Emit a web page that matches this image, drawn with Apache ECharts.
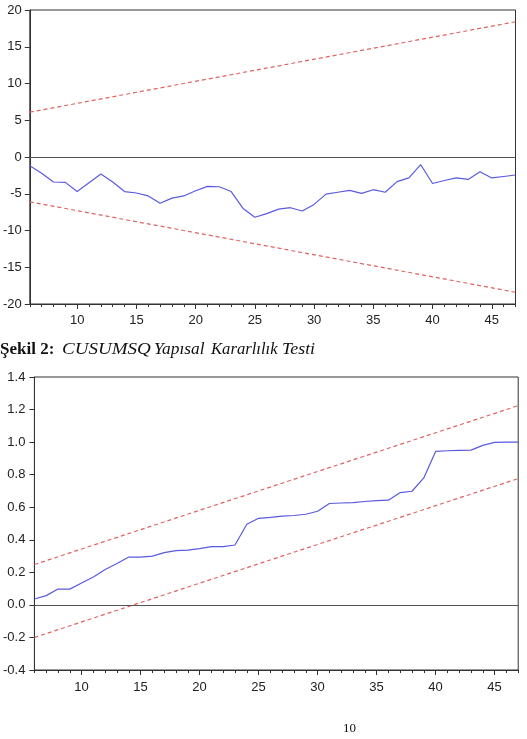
<!DOCTYPE html>
<html>
<head>
<meta charset="utf-8">
<script src="https://cdn.jsdelivr.net/npm/echarts@6/dist/echarts.min.js"></script>
<style>
html,body{margin:0;padding:0;background:#fff;}
#c{width:527px;height:739px;}
</style>
</head>
<body>
<div id="c"></div>
<script>
// observation index (x axis)
const obs = [6,7,8,9,10,11,12,13,14,15,16,17,18,19,20,21,22,23,24,25,26,27,28,29,30,31,32,33,34,35,36,37,38,39,40,41,42,43,44,45,46,47];
// CUSUM statistic
const cusum = [-1.2,-2.2,-3.4,-3.45,-4.7,-3.5,-2.3,-3.4,-4.7,-4.9,-5.3,-6.3,-5.6,-5.3,-4.6,-4.0,-4.05,-4.7,-7.0,-8.2,-7.7,-7.1,-6.9,-7.35,-6.45,-5.05,-4.8,-4.55,-4.95,-4.45,-4.8,-3.35,-2.85,-1.05,-3.6,-3.2,-2.85,-3.05,-2.0,-2.85,-2.65,-2.45];
// CUSUM 5% bounds (endpoints)
const cusumBoundX = [6, 47];
const cusumUpper = [6.1, 18.4];
const cusumLower = [-6.1, -18.4];
// CUSUM of squares statistic
const cusumsq = [0.036,0.057,0.097,0.097,0.134,0.171,0.217,0.254,0.294,0.294,0.30,0.321,0.333,0.337,0.346,0.358,0.358,0.368,0.495,0.532,0.538,0.545,0.549,0.557,0.575,0.623,0.626,0.628,0.635,0.641,0.643,0.69,0.698,0.78,0.943,0.947,0.949,0.951,0.98,0.998,1.0,1.0];
// CUSUMSQ 5% bounds (endpoints)
const sqBoundX = [6, 47];
const sqUpper = [0.248, 1.224];
const sqLower = [-0.2, 0.776];
// tick labels
const xMajorTicks = [10,15,20,25,30,35,40,45];
const captionBold = 'Şekil 2:';
const captionWords = ['CUSUMSQ','Yapısal','Kararlılık','Testi'];
const pageNumber = '10';

const zip = (xs, ys) => xs.map((x, i) => [x, ys[i]]);

const AX = '#333';
const LBL = {color:'#222', fontSize:13, fontFamily:'Liberation Sans, Arial, sans-serif'};
const BLUE = '#5a5ae0';
const RED = '#e06262';

function xAxes(gridIndex, margin) {
  return [
    {type:'value', gridIndex, position:'bottom', min:6, max:47, interval:1,
     axisLine:{show:true, onZero:false, lineStyle:{color:AX, width:1}},
     axisTick:{show:true, length:3, lineStyle:{color:AX}},
     axisLabel:Object.assign({margin, formatter:v => (xMajorTicks.indexOf(v) >= 0 ? String(v) : '')}, LBL),
     splitLine:{show:false}},
    {type:'value', gridIndex, position:'bottom', offset:0, min:6, max:47,
     axisLine:{show:false, onZero:false},
     axisTick:{show:true, length:5, customValues:xMajorTicks, lineStyle:{color:AX}},
     axisLabel:{show:false},
     splitLine:{show:false}}
  ];
}

const serifI = 'italic 17px "Liberation Serif", "Times New Roman", serif';
const option = {
  animation:false,
  backgroundColor:'#fff',
  grid:[
    {left:29.5, top:10, width:486, height:294, show:true, borderColor:AX, borderWidth:1, backgroundColor:'transparent'},
    {left:33.7, top:377, width:484.5, height:293, show:true, borderColor:AX, borderWidth:1, backgroundColor:'transparent'}
  ],
  xAxis:[].concat(xAxes(0, 10), xAxes(1, 11)),
  yAxis:[
    {type:'value', gridIndex:0, min:-20, max:20, interval:5,
     axisLine:{show:true, onZero:false, lineStyle:{color:AX}},
     axisTick:{show:true, length:5, lineStyle:{color:AX}},
     axisLabel:Object.assign({margin:8}, LBL),
     splitLine:{show:false}},
    {type:'value', gridIndex:1, min:-0.4, max:1.4, interval:0.2,
     axisLine:{show:true, onZero:false, lineStyle:{color:AX}},
     axisTick:{show:true, length:5, lineStyle:{color:AX}},
     axisLabel:Object.assign({margin:9, formatter:v => v.toFixed(1)}, LBL),
     splitLine:{show:false}}
  ],
  series:[
    {type:'line', xAxisIndex:0, yAxisIndex:0, data:zip(obs, cusum), showSymbol:false, symbol:'none',
     lineStyle:{color:BLUE, width:1.2}, z:3,
     markLine:{silent:true, symbol:'none', label:{show:false}, lineStyle:{color:'#555', type:'solid', width:1.2},
       data:[{yAxis:0}]}},
    {type:'line', xAxisIndex:0, yAxisIndex:0, data:zip(cusumBoundX, cusumUpper), symbol:'none',
     lineStyle:{color:RED, width:1.2, type:[4,3]}},
    {type:'line', xAxisIndex:0, yAxisIndex:0, data:zip(cusumBoundX, cusumLower), symbol:'none',
     lineStyle:{color:RED, width:1.2, type:[4,3]}},
    {type:'line', xAxisIndex:2, yAxisIndex:1, data:zip(obs, cusumsq), symbol:'none',
     lineStyle:{color:BLUE, width:1.2}, z:3,
     markLine:{silent:true, symbol:'none', label:{show:false}, lineStyle:{color:'#555', type:'solid', width:1.2},
       data:[{yAxis:0}]}},
    {type:'line', xAxisIndex:2, yAxisIndex:1, data:zip(sqBoundX, sqUpper), symbol:'none',
     lineStyle:{color:RED, width:1.2, type:[4,3]}},
    {type:'line', xAxisIndex:2, yAxisIndex:1, data:zip(sqBoundX, sqLower), symbol:'none',
     lineStyle:{color:RED, width:1.2, type:[4,3]}}
  ],
  graphic:[
    {type:'text', x:0, y:341, style:{text:captionBold, font:'bold 17px "Liberation Serif", "Times New Roman", serif', fill:'#111'}},
    {type:'text', x:62, y:341, scaleX:1.12, style:{text:captionWords[0], font:serifI, fill:'#111'}},
    {type:'text', x:154, y:341, scaleX:1.02, style:{text:captionWords[1], font:serifI, fill:'#111'}},
    {type:'text', x:211, y:341, scaleX:0.98, style:{text:captionWords[2], font:serifI, fill:'#111'}},
    {type:'text', x:282, y:341, scaleX:1.05, style:{text:captionWords[3], font:serifI, fill:'#111'}},
    {type:'text', x:343, y:722, style:{text:pageNumber, font:'13px "Liberation Serif", "Times New Roman", serif', fill:'#111'}}
  ]
};
const chart = echarts.init(document.getElementById('c'), null, {renderer:'canvas'});
chart.setOption(option);
</script>
</body>
</html>
